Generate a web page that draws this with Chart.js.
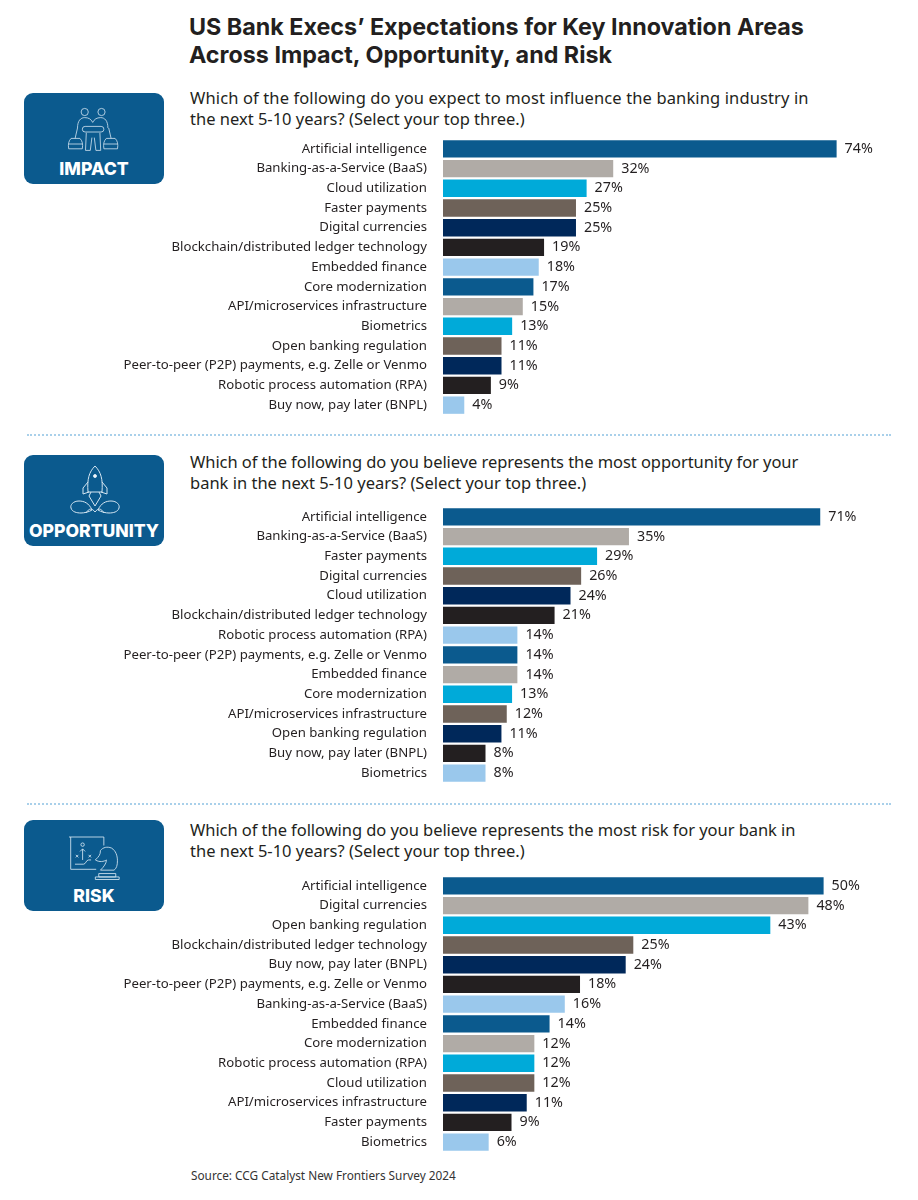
<!DOCTYPE html>
<html><head><meta charset="utf-8">
<script src="https://cdn.jsdelivr.net/npm/chart.js@4"></script>
<style>
html,body{margin:0;padding:0;background:#fff}
#page{position:relative;width:918px;height:1200px;overflow:hidden;font-family:"Noto Sans",sans-serif;color:#231f20}
.abs{position:absolute}
#title{left:189px;top:13px;font:700 23.3px/28px Inter,sans-serif;color:#231f20;white-space:nowrap}
.q{left:190px;font:400 16.5px/21px "Noto Sans",sans-serif;white-space:nowrap;color:#231f20}
.q b{font-weight:400;letter-spacing:-.06px}
.badge{left:24px;width:140px;height:91px;border-radius:9px;background:#0b5a8e;color:#fff;text-align:center}
.badge span{position:absolute;left:0;right:0;bottom:3px;font:800 17.6px/24px Inter,sans-serif;}
.badge svg{position:absolute;left:0;top:0}
.dots{left:27px;width:864px;height:0;border-top:2px dotted #a9d0ea}
#src{left:191px;top:1168px;font:400 11.8px/14px "Noto Sans",sans-serif;color:#333}
canvas{position:absolute;left:0}
</style></head><body>
<div id="page">
<div id="title" class="abs">US Bank Execs’ Expectations for Key Innovation Areas<br>Across Impact, Opportunity, and Risk</div>

<div class="abs badge" style="top:93px"><svg width="140" height="91" fill="none" stroke="#d5e6f2" stroke-width="1"><g transform="translate(13.5 7) scale(.8)"><circle cx="59" cy="15" r="4.5"/><circle cx="80" cy="15" r="4.5"/><path d="M50 35c0-9 4-13 9-13s8 2 10 6c2-4 5-6 10-6s9 4 9 13M50 35l-3 13M89 35l3 13M61 41l-1 22h6l2-16M78 41l1 22h-6l-2-16"/><rect x="56" y="33" width="27" height="7" rx="3.5"/><path d="M42 48h11c3 3 4 7 3 13H39c-1-6 0-10 3-13zM86 48h11c3 3 4 7 3 13H83c-1-6 0-10 3-13zM39 55h17M83 55h17"/></g></svg><span>IMPACT</span></div>
<div class="abs q" style="top:87px"><b style="letter-spacing:.12px">Which of the following do you expect to most influence the banking industry in</b><br>the next 5-10 years? (Select your top three.)</div>
<div class="abs dots" style="top:434px"></div>

<div class="abs badge" style="top:455px"><svg width="140" height="91" fill="none" stroke="#d5e6f2" stroke-width="1"><path d="M71 11c-6 6-8 13-7 26h14c1-13-1-20-7-26zM64 27l-5 6v6l6-2M78 27l5 6v6l-6-2M67 37l-2 4 6 10 6-10-2-4"/><circle cx="71" cy="21" r="1.5" fill="#fff"/><path d="M68 55c-3-7-8-9-13-9-6 0-9 4-8 7 1 4 6 5 10 5 3 0 8-1 11-3zM74 55c3-7 8-9 13-9 6 0 9 4 8 7-1 4-6 5-10 5-3 0-8-1-11-3zM62 58c3-5 6-5 9-1 3-4 6-4 9 1"/></svg><span>OPPORTUNITY</span></div>
<div class="abs q" style="top:451px"><b>Which of the following do you believe represents the most opportunity for your</b><br>bank in the next 5-10 years? (Select your top three.)</div>
<div class="abs dots" style="top:803px"></div>

<div class="abs badge" style="top:820px"><svg width="140" height="91" fill="none" stroke="#d5e6f2" stroke-width="1"><g transform="translate(6.75 2.55) scale(.85)"><path d="M45 17h41M47 17v38h30M86 17v10"/><circle cx="61" cy="26" r="2"/><path d="M61 44v-13M58 34l3-3 3 3M53 38l3 3M56 38l-3 3M68 38l3 3M71 38l-3 3M52 49h10c3 0 3-5 6-5h3"/><path d="M76 44c4-4 6-6 6-11 3-4 8-5 13-3 5 3 7 9 7 15 0 5-1 9-4 11H82c4-4 7-8 7-12-3 2-8 3-13 0zM80 60h20v4H80zM76 64h28v3H76z"/></g></svg><span>RISK</span></div>
<div class="abs q" style="top:819px"><b>Which of the following do you believe represents the most risk for your bank in</b><br>the next 5-10 years? (Select your top three.)</div>

<canvas id="c1" width="918" height="276"></canvas><canvas id="c2" width="918" height="276"></canvas><canvas id="c3" width="918" height="276"></canvas>
<div id="src" class="abs">Source: CCG Catalyst New Frontiers Survey 2024</div>
</div>
<script>
const impactCategories=["Artificial intelligence","Banking-as-a-Service (BaaS)","Cloud utilization","Faster payments","Digital currencies","Blockchain/distributed ledger technology","Embedded finance","Core modernization","API/microservices infrastructure","Biometrics","Open banking regulation","Peer-to-peer (P2P) payments, e.g. Zelle or Venmo","Robotic process automation (RPA)","Buy now, pay later (BNPL)"];
const impactValues=[74,32,27,25,25,19,18,17,15,13,11,11,9,4];
const opportunityCategories=["Artificial intelligence","Banking-as-a-Service (BaaS)","Faster payments","Digital currencies","Cloud utilization","Blockchain/distributed ledger technology","Robotic process automation (RPA)","Peer-to-peer (P2P) payments, e.g. Zelle or Venmo","Embedded finance","Core modernization","API/microservices infrastructure","Open banking regulation","Buy now, pay later (BNPL)","Biometrics"];
const opportunityValues=[71,35,29,26,24,21,14,14,14,13,12,11,8,8];
const riskCategories=["Artificial intelligence","Digital currencies","Open banking regulation","Blockchain/distributed ledger technology","Buy now, pay later (BNPL)","Peer-to-peer (P2P) payments, e.g. Zelle or Venmo","Banking-as-a-Service (BaaS)","Embedded finance","Core modernization","Robotic process automation (RPA)","Cloud utilization","API/microservices infrastructure","Faster payments","Biometrics"];
const riskValues=[50,48,43,25,24,18,16,14,12,12,12,11,9,6];
const palette=["#0b5a8e","#b0aba6","#00aad9","#6e6259","#00285a","#231f20","#9ac8ec"];
const FONT='"Noto Sans",sans-serif';
const valueLabels={id:'valueLabels',afterDatasetsDraw(ch){
  const c=ch.ctx,m=ch.getDatasetMeta(0);
  c.save();c.font='400 14.3px '+FONT;c.fillStyle='#231f20';c.textAlign='left';c.textBaseline='middle';
  m.data.forEach((b,i)=>c.fillText(ch.data.datasets[0].data[i]+'%',b.x+8,b.y));
  c.restore();
}};
function build(id,top,cats,vals,xMax){
  const cv=document.getElementById(id);
  cv.style.top=top+'px';
  new Chart(cv,{type:'bar',plugins:[valueLabels],
    data:{labels:cats,datasets:[{data:vals,backgroundColor:cats.map((_,i)=>palette[i%palette.length]),barPercentage:.88,categoryPercentage:1}]},
    options:{indexAxis:'y',responsive:false,animation:false,
      layout:{padding:0},
      plugins:{legend:{display:false},tooltip:{enabled:false}},
      scales:{
        x:{display:false,min:0,max:xMax},
        y:{afterFit(a){a.width=443;a.paddingTop=0;a.paddingBottom=0},grid:{display:false},border:{display:false},
           ticks:{autoSkip:false,padding:8,color:'#231f20',font:{family:FONT,size:13.2}}}
      }}});
}
build('c1',139,impactCategories,impactValues,89.3);
build('c2',507,opportunityCategories,opportunityValues,89.4);
build('c3',876,riskCategories,riskValues,62.4);
</script>
</body></html>
